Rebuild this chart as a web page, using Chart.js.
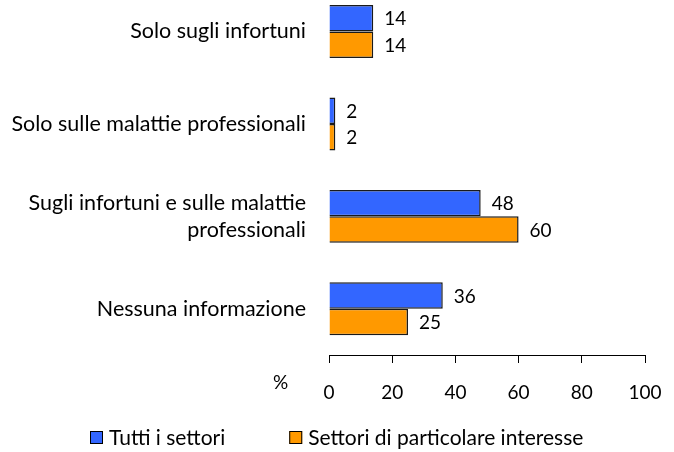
<!DOCTYPE html>
<html>
<head>
<meta charset="utf-8">
<script src="https://cdn.jsdelivr.net/npm/chart.js@4.4.1/dist/chart.umd.min.js"></script>
<style>
  html, body { margin: 0; padding: 0; background: #fff; }
  #wrap { width: 674px; height: 452px; }
</style>
</head>
<body>
<div id="wrap"><canvas id="grafico"></canvas></div>
<script>
// dati
const categorie = [
  'Solo sugli infortuni',
  'Solo sulle malattie professionali',
  ['Sugli infortuni e sulle malattie', 'professionali'],
  'Nessuna informazione'
];
const tuttiSettori = [14, 2, 48, 36];
const settoriInteresse = [14, 2, 60, 25];
const tickX = [0, 20, 40, 60, 80, 100];
const nomiSerie = ['Tutti i settori', 'Settori di particolare interesse'];

const fontTesto = { family: 'Lato', size: 21.5 };
const fontLegenda = { family: 'Lato', size: 21 };
const fontNumeri = { family: 'Lato', size: 19 };
const blu = '#3366FF';
const arancio = '#FF9900';

// etichette valori a destra delle barre
const etichetteValori = {
  id: 'etichetteValori',
  afterDatasetsDraw(chart) {
    const ctx = chart.ctx;
    ctx.save();
    ctx.font = `${fontNumeri.size}px ${fontNumeri.family}`;
    ctx.fillStyle = '#000';
    ctx.textAlign = 'left';
    ctx.textBaseline = 'middle';
    chart.data.datasets.forEach((ds, i) => {
      chart.getDatasetMeta(i).data.forEach((bar, j) => {
        ctx.fillText(ds.data[j].x, bar.x + 11, bar.y + 1);
      });
    });
    ctx.restore();
  }
};

// legenda in basso e simbolo % dell'asse
const legenda = {
  id: 'legenda',
  afterDraw(chart) {
    const ctx = chart.ctx;
    const area = chart.chartArea;
    ctx.save();
    ctx.fillStyle = '#000';
    ctx.textBaseline = 'middle';
    ctx.textAlign = 'left';
    ctx.font = `${fontNumeri.size}px ${fontNumeri.family}`;
    ctx.fillText('%', area.left - 56, 383);

    ctx.font = `${fontLegenda.size}px ${fontLegenda.family}`;
    const box = 13, gap = 6, spazio = 64;
    const voci = chart.data.datasets.map(ds => ({
      testo: ds.label,
      colore: ds.backgroundColor,
      w: ctx.measureText(ds.label).width
    }));
    const totale = voci.reduce((s, v) => s + box + gap + v.w, 0) + spazio * (voci.length - 1);
    let x = Math.round((chart.width - totale) / 2);
    const y = 437;
    voci.forEach(v => {
      ctx.fillStyle = v.colore;
      ctx.fillRect(x, y - 6, box, box);
      ctx.strokeStyle = '#000';
      ctx.lineWidth = 1;
      ctx.strokeRect(x + 0.5, y - 6 + 0.5, box - 1, box - 1);
      ctx.fillStyle = '#000';
      ctx.fillText(v.testo, x + box + gap, y + 1);
      x += box + gap + v.w + spazio;
    });
    ctx.restore();
  }
};

new Chart(document.getElementById('grafico'), {
  type: 'bar',
  data: {
    datasets: [
      {
        label: nomiSerie[0],
        data: tuttiSettori.map((v, i) => ({ x: v, y: i })),
        backgroundColor: blu,
        borderColor: '#1a1a1a',
        borderWidth: 1.5
      },
      {
        label: nomiSerie[1],
        data: settoriInteresse.map((v, i) => ({ x: v, y: i })),
        backgroundColor: arancio,
        borderColor: '#1a1a1a',
        borderWidth: 1.5
      }
    ]
  },
  options: {
    indexAxis: 'y',
    responsive: true,
    maintainAspectRatio: false,
    animation: false,
    categoryPercentage: 0.573,
    barPercentage: 1,
    layout: {
      padding: { top: 0, right: 29, bottom: 42, left: 0 }
    },
    plugins: {
      legend: { display: false },
      tooltip: { enabled: false }
    },
    scales: {
      y: {
        type: 'linear',
        reverse: true,
        offset: false,
        min: -0.341,
        max: 3.5,
        afterBuildTicks: (scale) => {
          scale.ticks = categorie.map((c, i) => ({ value: i }));
        },
        afterFit: (scale) => {
          scale.width = 329;
          scale.paddingTop = 0;
          scale.paddingBottom = 0;
        },
        grid: { display: false },
        border: { display: false },
        ticks: {
          autoSkip: false,
          padding: 15,
          color: '#000',
          font: { ...fontTesto, lineHeight: 1.26 },
          callback: (v) => categorie[v]
        }
      },
      x: {
        min: 0,
        max: 100,
        afterBuildTicks: (scale) => {
          scale.ticks = tickX.map(v => ({ value: v }));
        },
        afterFit: (scale) => {
          scale.height = 55;
          scale.paddingLeft = 0;
          scale.paddingRight = 0;
        },
        grid: {
          display: true,
          drawOnChartArea: false,
          drawTicks: true,
          tickLength: 8,
          color: '#000',
          lineWidth: 1
        },
        border: { display: true, color: '#000', width: 1 },
        ticks: {
          padding: 18,
          color: '#000',
          font: fontNumeri,
          maxRotation: 0
        }
      }
    }
  },
  plugins: [etichetteValori, legenda]
});
</script>
</body>
</html>
